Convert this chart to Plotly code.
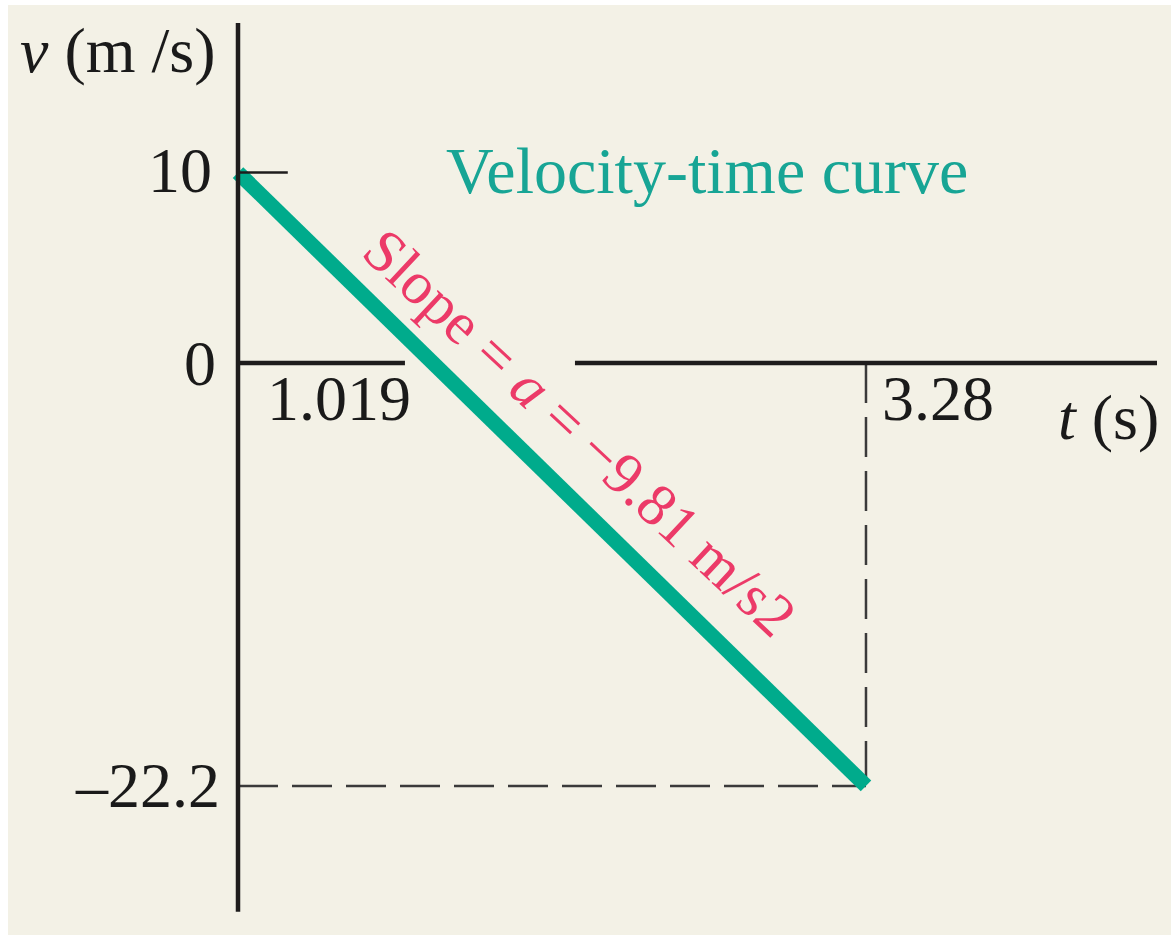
import plotly.graph_objects as go

# Velocity-time data for a body thrown upward (a = -9.81 m/s^2)
t_values = [0.0, 3.28]
v_values = [10.0, -22.2]
t_zero_crossing = 1.019
slope_label = "Slope\u00a0= <i>a</i>\u00a0= −9.81 m/s2"
curve_title = "Velocity-time curve"

# Styling
BG_CREAM = "#f3f1e6"
AXIS_BLACK = "#1e1c1c"
DASH_GREY = "#3a3a3a"
CURVE_GREEN = "#00ab8c"
TITLE_TEAL = "#17a595"
SLOPE_PINK = "#ec3a68"
FONT = "Liberation Serif"
FS = 64

fig = go.Figure()

# velocity line
fig.add_trace(go.Scatter(
    x=t_values, y=v_values, mode="lines",
    line=dict(color=CURVE_GREEN, width=15),
    hoverinfo="skip", showlegend=False,
))

t_end, v_end = t_values[-1], v_values[-1]
t_start, v_start = t_values[0], v_values[0]

shapes = [
    # vertical axis
    dict(type="line", x0=0, x1=0, y0=-28.8, y1=17.85,
         line=dict(color=AXIS_BLACK, width=4.5), layer="above"),
    # horizontal axis, interrupted where the curve passes
    dict(type="line", x0=0, x1=0.872, y0=0, y1=0,
         line=dict(color=AXIS_BLACK, width=4.5), layer="above"),
    dict(type="line", x0=1.76, x1=4.80, y0=0, y1=0,
         line=dict(color=AXIS_BLACK, width=4.5), layer="above"),
    # tick mark at the initial velocity
    dict(type="line", x0=0, x1=0.26, y0=v_start, y1=v_start,
         line=dict(color=AXIS_BLACK, width=2.5), layer="above"),
    # dashed guides to the end point
    dict(type="line", x0=t_end, x1=t_end, y0=0, y1=v_end,
         line=dict(color=DASH_GREY, width=2.5, dash="40px,14px"), layer="below"),
    dict(type="line", x0=0, x1=t_end, y0=v_end, y1=v_end,
         line=dict(color=DASH_GREY, width=2.5, dash="40px,14px"), layer="below"),
]

font_black = dict(family=FONT, size=FS, color="#1a1a1a")
annotations = [
    dict(x=0, y=v_start, text=f"{v_start:g}", xanchor="right", yanchor="middle",
         xshift=-24, yshift=2, showarrow=False, font=font_black),
    dict(x=0, y=0, text="0", xanchor="right", yanchor="middle",
         xshift=-20, yshift=0, showarrow=False, font=font_black),
    dict(x=0, y=v_end, text=f"–{abs(v_end):g}", xanchor="right", yanchor="middle",
         xshift=-16, yshift=0, showarrow=False, font=font_black),
    dict(x=t_zero_crossing, y=0, text=f"{t_zero_crossing:g}", xanchor="right",
         yanchor="middle", xshift=-20, yshift=-35, showarrow=False, font=font_black),
    dict(x=t_end, y=0, text=f"{t_end:g}", xanchor="left", yanchor="middle",
         xshift=14, yshift=-35, showarrow=False, font=font_black),
    # axis titles
    dict(x=0, y=17.85, text="<i>v</i> (m /s)", xanchor="right", yanchor="middle",
         xshift=-20, yshift=-28, showarrow=False, font=font_black),
    dict(x=4.80, y=0, text="<i>t</i> (s)", xanchor="right", yanchor="middle",
         xshift=4, yshift=-54, showarrow=False, font=font_black),
    # curve title
    dict(x=2.45, y=v_start, text=curve_title, xanchor="center", yanchor="middle",
         yshift=2, showarrow=False,
         font=dict(family=FONT, size=66, color=TITLE_TEAL)),
    # slope label along the line
    dict(x=(t_start + t_end) / 2, y=(v_start + v_end) / 2, text=slope_label,
         textangle=43, xanchor="center", yanchor="middle",
         xshift=28, yshift=46, showarrow=False,
         font=dict(family=FONT, size=60, color=SLOPE_PINK)),
]

fig.update_layout(
    width=1171, height=935,
    margin=dict(l=8, r=0, t=5, b=0),
    paper_bgcolor="white",
    plot_bgcolor=BG_CREAM,
    xaxis=dict(range=[-1.2013, 4.8731], visible=False, fixedrange=True),
    yaxis=dict(range=[-30.026, 18.793], visible=False, fixedrange=True),
    shapes=shapes,
    annotations=annotations,
    showlegend=False,
)

fig.write_html("out.html")
